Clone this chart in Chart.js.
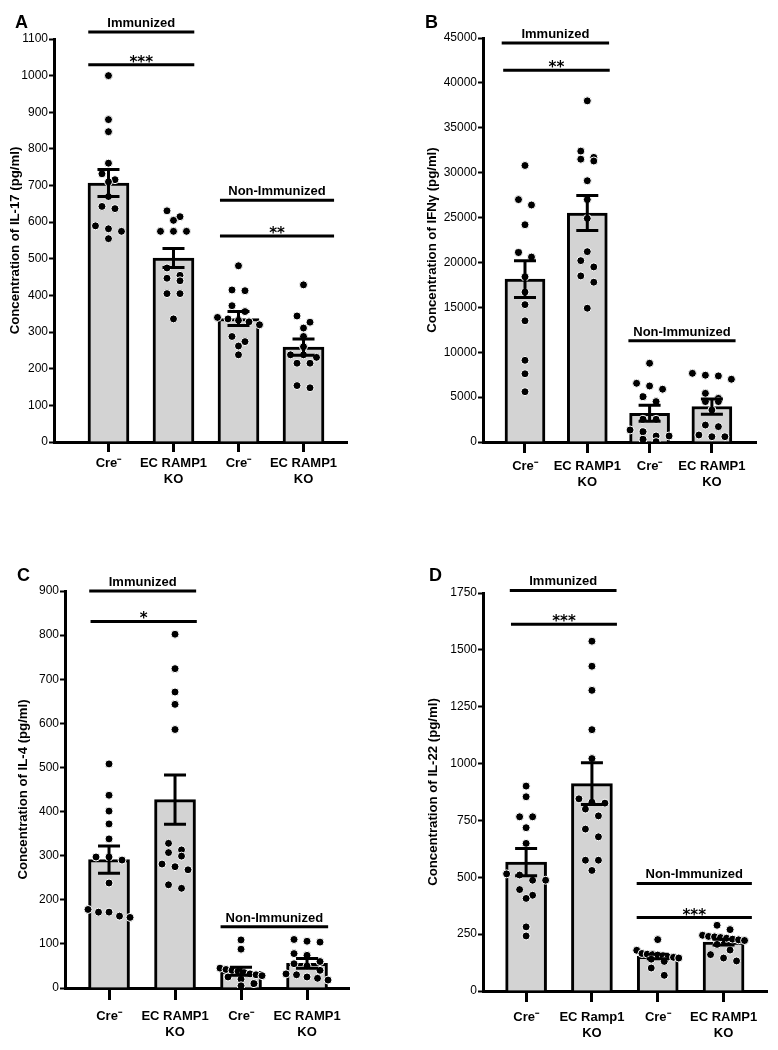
<!DOCTYPE html>
<html>
<head>
<meta charset="utf-8">
<script src="https://cdn.jsdelivr.net/npm/chart.js@4.4.0/dist/chart.umd.min.js"></script>
<style>
body { margin: 0; background: #fff; width: 778px; height: 1050px; position: relative; }
canvas { position: absolute; }
</style>
</head>
<body>
<canvas id="chartA" width="389" height="520" style="left:0;top:0"></canvas>
<canvas id="chartB" width="389" height="520" style="left:389px;top:0"></canvas>
<canvas id="chartC" width="389" height="525" style="left:0;top:525px"></canvas>
<canvas id="chartD" width="389" height="525" style="left:389px;top:525px"></canvas>
<script>
// group labels under each x axis
const groupLabels = ["Cre⁻", ["EC RAMP1", "KO"], "Cre⁻", ["EC RAMP1", "KO"]];
const groupLabelsD = ["Cre⁻", ["EC Ramp1", "KO"], "Cre⁻", ["EC RAMP1", "KO"]];

// A: IL-17
const il17Mean = [707, 502, 337, 259];
const il17Sem = [37, 26, 19, 22];
const il17CreImm = [1000, 880, 847, 761, 732, 716, 710, 670, 643, 637, 590, 582, 575, 555];
const il17KoImm = [631, 615, 605, 575, 575, 575, 475, 455, 447, 440, 405, 405, 336];
const il17CreNon = [481, 415, 413, 372, 356, 340, 336, 332, 328, 320, 288, 274, 262, 238];
const il17KoNon = [429, 344, 327, 311, 288, 260, 238, 238, 231, 215, 215, 154, 148];

// B: IFNγ
const ifnMean = [18150, 25500, 3200, 3950];
const ifnSem = [2050, 1950, 900, 850];
const ifnCreImm = [30800, 27000, 26400, 24200, 21100, 20600, 18400, 16700, 15300, 13500, 9100, 7600, 5600];
const ifnKoImm = [38000, 32400, 31700, 31500, 31300, 29100, 27000, 24900, 21200, 20200, 19500, 18500, 17800, 14900];
const ifnCreNon = [8770, 6540, 6240, 5880, 5050, 4500, 2530, 2530, 1340, 1150, 670, 670, 300, 40];
const ifnKoNon = [7650, 7440, 7360, 6990, 5420, 4860, 4500, 4500, 3560, 1890, 1710, 780, 590, 590];

// C: IL-4
const il4Mean = [291, 427, 38, 56];
const il4Sem = [31, 56, 9, 11];
const il4CreImm = [508, 437, 401, 372, 338, 297, 297, 290, 238, 178, 172, 172, 163, 160];
const il4KoImm = [802, 724, 671, 643, 586, 328, 313, 307, 299, 281, 275, 268, 234, 226];
const il4CreNon = [109, 88, 45, 42, 40, 38, 35, 32, 30, 28, 25, 20, 10, 5];
const il4KoNon = [110, 106, 104, 78, 74, 60, 55, 50, 40, 32, 30, 25, 22, 18];

// D: IL-22
const il22Mean = [567, 912, 152, 215];
const il22Sem = [60, 92, 10, 13];
const il22CreImm = [901, 854, 766, 766, 718, 649, 515, 510, 487, 487, 446, 421, 407, 282, 242];
const il22KoImm = [1538, 1428, 1322, 1149, 1022, 845, 830, 826, 800, 770, 712, 678, 575, 575, 530];
const il22CreNon = [226, 179, 165, 162, 160, 158, 155, 150, 148, 145, 140, 130, 101, 69];
const il22KoNon = [289, 270, 245, 240, 238, 235, 232, 228, 225, 222, 205, 180, 160, 145, 132];

Chart.defaults.font.family = "'Liberation Sans', Arial, sans-serif";
Chart.defaults.color = "#000";

const panels = [
    {
        id: "chartA", letter: "A", letterX: 15, letterY: 14,
        title: "Concentration of IL-17 (pg/ml)", titlePad: 7,
        means: il17Mean, sem: il17Sem,
        points: [il17CreImm, il17KoImm, il17CreNon, il17KoNon],
        labels: groupLabels, yMax: 1100, yStep: 100,
        xMin: 0.162, xMax: 4.669, yW: 54, xH: 78, top: 39, right: 42,
        tickLen: 10, tickPad: 4, barW: 41,
        sig: [
            { x1: 0.689, x2: 2.32, y: 1119, text: "Immunized" },
            { x1: 0.689, x2: 2.32, y: 1030, text: "***", star: true },
            { x1: 2.715, x2: 4.47, y: 660, text: "Non-Immunized" },
            { x1: 2.715, x2: 4.47, y: 562, text: "**", star: true }
        ]
    },
    {
        id: "chartB", letter: "B", letterX: 36, letterY: 14,
        title: "Concentration of IFNγ (pg/ml)", titlePad: 35,
        means: ifnMean, sem: ifnSem,
        points: [ifnCreImm, ifnKoImm, ifnCreNon, ifnKoNon],
        labels: groupLabels, yMax: 45000, yStep: 5000,
        xMin: 0.326, xMax: 4.708, yW: 94, xH: 78, top: 38, right: 22,
        tickLen: 11, tickPad: 6, barW: 40,
        sig: [
            { x1: 0.626, x2: 2.35, y: 44450, text: "Immunized" },
            { x1: 0.65, x2: 2.36, y: 41400, text: "**", star: true },
            { x1: 2.66, x2: 4.38, y: 11290, text: "Non-Immunized" }
        ]
    },
    {
        id: "chartC", letter: "C", letterX: 17, letterY: 42,
        title: "Concentration of IL-4 (pg/ml)", titlePad: 15,
        means: il4Mean, sem: il4Sem,
        points: [il4CreImm, il4KoImm, il4CreNon, il4KoNon],
        labels: groupLabels, yMax: 900, yStep: 100,
        xMin: 0.333, xMax: 4.636, yW: 65, xH: 62, top: 66, right: 40,
        tickLen: 12, tickPad: 9, barW: 41,
        sig: [
            { x1: 0.70, x2: 2.32, y: 900, text: "Immunized" },
            { x1: 0.72, x2: 2.33, y: 831, text: "*", star: true },
            { x1: 2.69, x2: 4.32, y: 139, text: "Non-Immunized" }
        ]
    },
    {
        id: "chartD", letter: "D", letterX: 40, letterY: 42,
        title: "Concentration of IL-22 (pg/ml)", titlePad: 36,
        means: il22Mean, sem: il22Sem,
        points: [il22CreImm, il22KoImm, il22CreNon, il22KoNon],
        labels: groupLabelsD, yMax: 1750, yStep: 250,
        xMin: 0.345, xMax: 4.66, yW: 94, xH: 59, top: 68, right: 11,
        tickLen: 11, tickPad: 8, barW: 41,
        sig: [
            { x1: 0.752, x2: 2.374, y: 1761, text: "Immunized" },
            { x1: 0.77, x2: 2.38, y: 1613, text: "***", star: true },
            { x1: 2.68, x2: 4.43, y: 473, text: "Non-Immunized" },
            { x1: 2.68, x2: 4.43, y: 323, text: "***", star: true }
        ]
    }
];

// spread dots sideways when they sit at nearly the same height
function swarm(chart, values, center) {
    const ys = chart.scales.y, xs = chart.scales.x;
    const unit = xs.getPixelForValue(2) - xs.getPixelForValue(1);
    const sorted = values.map(v => ({ v, py: ys.getPixelForValue(v) })).sort((a, b) => a.py - b.py);
    const out = [];
    let i = 0;
    while (i < sorted.length) {
        let j = i;
        while (j + 1 < sorted.length && sorted[j + 1].py - sorted[i].py < 8) j++;
        const n = j - i + 1;
        const step = n > 1 ? Math.min(13, 42 / (n - 1)) : 0;
        for (let k = 0; k < n; k++) {
            out.push({ x: center + ((k - (n - 1) / 2) * step) / unit, y: sorted[i + k].v });
        }
        i = j + 1;
    }
    return out;
}

function makeDecor(p) {
    return {
        id: "decor" + p.letter,
        afterDatasetsDraw(chart) {
            const { ctx } = chart;
            const xs = chart.scales.x, ys = chart.scales.y;
            ctx.save();
            ctx.strokeStyle = "#000";
            ctx.lineWidth = 3;
            p.means.forEach((m, i) => {
                const x = xs.getPixelForValue(i + 1);
                const yT = ys.getPixelForValue(m + p.sem[i]);
                const yB = ys.getPixelForValue(Math.max(0, m - p.sem[i]));
                ctx.beginPath();
                ctx.moveTo(x, yT); ctx.lineTo(x, yB);
                ctx.moveTo(x - 11, yT); ctx.lineTo(x + 11, yT);
                ctx.moveTo(x - 11, yB); ctx.lineTo(x + 11, yB);
                ctx.stroke();
            });
            ctx.restore();
        },
        afterDraw(chart) {
            const { ctx } = chart;
            const xs = chart.scales.x, ys = chart.scales.y;
            ctx.save();
            ctx.fillStyle = "#000";
            ctx.strokeStyle = "#000";
            ctx.lineWidth = 3;
            p.sig.forEach(s => {
                const x1 = xs.getPixelForValue(s.x1), x2 = xs.getPixelForValue(s.x2);
                const y = ys.getPixelForValue(s.y);
                ctx.beginPath();
                ctx.moveTo(x1, y); ctx.lineTo(x2, y);
                ctx.stroke();
                ctx.textAlign = "center";
                ctx.textBaseline = "alphabetic";
                if (s.star) {
                    ctx.font = "bold 15px 'DejaVu Sans'";
                    ctx.fillText(s.text, (x1 + x2) / 2, y + 2);
                } else {
                    ctx.font = "bold 13px 'Liberation Sans'";
                    ctx.fillText(s.text, (x1 + x2) / 2, y - 5);
                }
            });
            ctx.font = "bold 18px 'Liberation Sans'";
            ctx.textAlign = "left";
            ctx.textBaseline = "top";
            ctx.fillText(p.letter, p.letterX, p.letterY);
            ctx.restore();
        }
    };
}

function buildPanel(p) {
    const chart = new Chart(document.getElementById(p.id), {
        type: "bar",
        data: {
            datasets: [
                {
                    type: "bar",
                    data: p.means.map((m, i) => ({ x: i + 1, y: m })),
                    backgroundColor: "#d3d3d3",
                    borderColor: "#000",
                    borderWidth: 3,
                    barThickness: p.barW,
                    order: 2
                },
                ...p.points.map((vals, i) => ({
                    type: "scatter",
                    data: vals.map(v => ({ x: i + 1, y: v })),
                    pointRadius: 4,
                    pointBackgroundColor: "#000",
                    pointBorderColor: "#fff",
                    pointBorderWidth: 1,
                    order: 1
                }))
            ]
        },
        options: {
            responsive: false,
            animation: false,
            events: [],
            layout: { padding: { left: 0, right: p.right, top: p.top, bottom: 0 } },
            plugins: { legend: { display: false }, tooltip: { enabled: false } },
            scales: {
                x: {
                    type: "linear",
                    offset: false,
                    min: p.xMin,
                    max: p.xMax,
                    afterBuildTicks: s => { s.ticks = [1, 2, 3, 4].map(v => ({ value: v })); },
                    afterFit: s => { s.height = p.xH; },
                    ticks: {
                        autoSkip: false,
                        maxRotation: 0,
                        padding: p.tickPad,
                        font: { size: 13, weight: "bold" },
                        callback: v => p.labels[Math.round(v) - 1]
                    },
                    grid: {
                        offset: false,
                        drawOnChartArea: false,
                        drawTicks: true,
                        tickLength: p.tickLen,
                        tickWidth: 3,
                        tickColor: "#000",
                        color: "#000"
                    },
                    border: { display: true, color: "#000", width: 3 }
                },
                y: {
                    min: 0,
                    max: p.yMax,
                    afterFit: s => { s.width = p.yW; },
                    ticks: {
                        stepSize: p.yStep,
                        padding: 1,
                        font: { size: 12 },
                        callback: v => String(v)
                    },
                    grid: {
                        drawOnChartArea: false,
                        drawTicks: true,
                        tickLength: 5,
                        tickWidth: 2,
                        tickColor: "#000",
                        color: "#000"
                    },
                    border: { display: true, color: "#000", width: 3 },
                    title: {
                        display: true,
                        text: p.title,
                        padding: { top: p.titlePad, bottom: 0 },
                        font: { size: 13.2, weight: "bold" }
                    }
                }
            }
        },
        plugins: [makeDecor(p)]
    });

    p.points.forEach((vals, i) => {
        chart.data.datasets[i + 1].data = swarm(chart, vals, i + 1);
    });
    chart.update("none");
}

panels.forEach(buildPanel);
</script>
</body>
</html>
